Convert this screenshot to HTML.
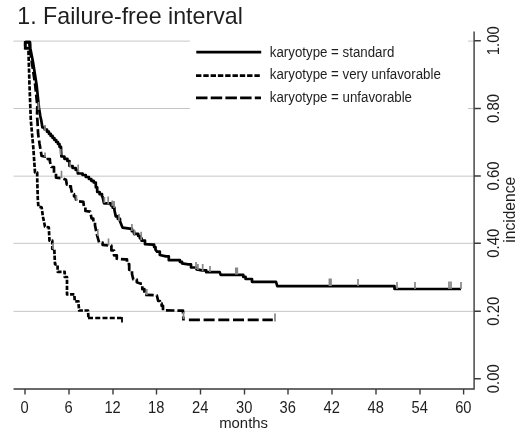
<!DOCTYPE html>
<html><head><meta charset="utf-8"><title>Failure-free interval</title>
<style>
html,body{margin:0;padding:0;background:#fff;}
body{width:520px;height:434px;overflow:hidden;font-family:"Liberation Sans",sans-serif;}
svg{display:block;}
text{font-family:"Liberation Sans",sans-serif;fill:#1e1e1e;}
</style></head><body>
<svg width="520" height="434" viewBox="0 0 520 434">
<rect width="520" height="434" fill="#fff"/>
<!-- gridlines -->
<g stroke="#c6c6c6" stroke-width="1">
<line x1="13.500" y1="41.100" x2="473.500" y2="41.100"/>
<line x1="13.500" y1="108.500" x2="473.500" y2="108.500"/>
<line x1="13.500" y1="176.150" x2="473.500" y2="176.150"/>
<line x1="13.500" y1="243.300" x2="473.500" y2="243.300"/>
<line x1="13.500" y1="311.350" x2="473.500" y2="311.350"/>
</g>
<!-- legend box -->
<rect x="190" y="34" width="278" height="82" fill="#fff"/>
<!-- title -->
<text x="17.300" y="23.800" font-size="23.200">1. Failure-free interval</text>
<!-- curves -->
<g fill="none" stroke="#000" stroke-linejoin="round" stroke-width="2.700">
<polyline stroke-dasharray="4.300,1.600" points="25.2,42.2 25.2,48.2 28.4,48.2 28.6,56.0 29.5,85.0 30.8,120.0 33.3,147.6 35.0,172.5 37.2,172.5 37.2,178.3 37.8,199.0 38.4,206.6 41.6,207.3 43.0,217.0 45.0,226.7 48.8,227.4 49.5,240.7 52.3,240.7 52.3,244.2 52.3,249.0 54.4,249.0 54.4,251.8 55.0,264.2 57.6,265.0 57.6,271.8 64.7,271.8 64.7,277.0 67.0,277.0 67.0,281.0 67.0,294.4 74.4,294.4 74.7,301.3 78.4,301.3 78.4,303.0 79.2,310.5 88.0,310.5 88.5,318.5"/>
<path stroke-dasharray="5,2.250" d="M88,318H121.500"/>
<polyline stroke-dasharray="8.500,3" points="25.2,42.2 29.8,42.2 29.8,48.2 31.8,62.0 35.2,85.0 37.3,106.0 37.0,116.0 37.4,120.0 38.1,133.8 39.5,143.5 41.6,156.0 45.7,156.6 47.8,156.6 47.8,159.1 49.9,159.1 49.9,161.5 51.3,167.0 54.0,167.0 54.0,173.0 56.0,173.0 56.0,177.6 62.6,178.3 66.0,179.7 66.8,184.6 68.8,184.6 68.8,186.3 70.9,186.3 70.9,188.0 72.3,194.2 74.0,194.2 74.0,196.3 75.7,196.3 75.7,198.4 76.4,201.0 83.3,201.8 84.0,206.7 85.4,206.7 85.4,211.0 90.2,211.6 91.6,218.5 93.3,218.5 93.3,221.9 95.0,221.9 95.0,225.4 97.0,235.0 99.2,242.7 102.6,242.7 102.6,244.8 109.6,245.5 111.4,245.5 111.4,250.5 114.0,250.5 114.0,255.3 116.8,255.3 116.8,258.7 125.0,259.4 127.0,259.4 127.0,264.2 129.2,264.2 129.2,269.8 132.0,269.8 132.0,274.0 133.3,279.5 136.8,279.5 136.8,282.3 140.9,283.7 142.3,283.7 142.3,289.2 144.4,289.2 144.4,294.9 156.8,295.3 158.2,301.0 159.9,301.0 159.9,303.4 161.6,303.4 161.6,305.8 163.0,305.8 163.0,310.3 181.0,310.6 183.0,310.6 183.0,313.4 183.5,320.5"/>
<path stroke-dasharray="11,3.700" d="M188.900,319.800H272.800"/>
<polyline points="25.2,42.2 29.8,42.2 30.3,48.2 33.0,62.0 36.6,85.0 39.0,108.0 40.3,116.0 41.2,120.0 42.4,127.5 44.7,127.5 44.7,129.6 47.0,129.6 47.0,131.7 48.9,131.7 48.9,133.8 50.7,133.8 50.7,135.9 52.6,135.9 52.6,138.0 54.4,138.0 54.4,140.0 56.2,140.0 56.2,142.0 58.0,142.0 58.0,144.0 59.5,144.0 59.5,146.8 61.0,146.8 61.0,149.7 61.4,156.5 64.4,156.5 64.4,158.8 67.4,158.8 67.4,161.0 69.5,161.0 69.5,166.0 72.6,166.0 72.6,168.0 75.7,168.0 75.7,170.0 77.8,170.0 77.8,173.5 82.6,173.5 82.6,175.0 85.8,175.0 85.8,177.0 88.9,177.0 88.9,179.0 91.3,179.0 91.3,180.8 93.7,180.8 93.7,182.5 95.8,182.5 95.8,187.3 97.2,187.3 97.2,192.0 99.6,192.0 99.6,194.2 102.0,194.2 102.0,196.3 102.6,197.0 104.0,203.3 111.0,203.3 111.0,205.4 112.7,205.4 112.7,207.7 114.4,207.7 114.4,210.0 115.8,216.4 117.9,216.4 117.9,218.9 120.0,218.9 120.0,221.3 122.5,227.6 129.8,228.6 131.9,228.6 131.9,231.2 134.0,231.2 134.0,233.8 138.2,233.8 138.2,236.0 139.9,236.0 139.9,238.3 141.6,238.3 141.6,240.7 145.0,240.7 145.0,244.2 152.7,244.6 154.1,244.6 154.1,247.1 155.5,247.1 155.5,249.7 157.0,251.6 159.8,251.6 159.8,255.0 166.0,256.4 168.8,256.4 168.8,260.2 177.8,260.2 179.9,260.2 179.9,261.8 182.0,261.8 182.0,263.3 188.2,264.3 191.0,264.3 191.0,267.5 196.5,267.5 196.5,269.3 202.0,270.3 206.2,270.3 206.2,272.2 219.7,272.2 220.7,274.9 241.0,274.9 243.3,274.9 243.3,276.9 245.6,276.9 245.6,279.0 249.2,279.0 252.0,279.0 252.0,281.8 276.0,281.8 277.3,286.2 393.0,286.2 394.5,286.2 394.5,289.0 461.0,289.0"/>
</g>
<!-- censor ticks -->
<g stroke="#878787" stroke-width="1.700" fill="none">
<path d="M45,125V131M60.7,149V155M70.2,161.8V167M78.2,164.5V172M104.4,197V203M108.2,196.4V204M112.3,200.5V206M114.1,201V208M119,214V221M131.9,224V231M134.4,229.7V236M141.2,231.7V240M196,262V269M197.9,264V270M202.7,264V271M210,266V272M235.8,267.5V274.5M237.3,267.5V274.5M329.4,278.5V286M331,278.5V286M358,279V286M397,282V289M415,282V289M449,281.5V289M451,281.5V289M461,282V289"/>
<path d="M38.6,102V110M45,152.5V157M61.5,170.7V178M76.4,195V201M97.8,229V236M108.5,238.5V245.5M146.8,289V295M183.5,312V319M275,313.6V321.5"/>
<path d="M53,243V249"/>
</g>
<path d="M122,317V322.500" stroke="#000" stroke-width="1.800" fill="none"/>
<path d="M25.200,42.200H29.800V48.200H25.200Z" stroke="#000" stroke-width="2.600" fill="none"/>
<!-- legend -->
<g stroke="#000" stroke-width="2.700" fill="none">
<line x1="196.300" y1="52.200" x2="261.200" y2="52.200"/>
<line x1="196" y1="75.600" x2="261" y2="75.600" stroke-dasharray="5.400,1.900"/>
<line x1="196" y1="97.800" x2="261" y2="97.800" stroke-dasharray="11.500,3.200"/>
</g>
<g font-size="13.300">
<text transform="translate(269.800,57.200) scale(1,1.100)">karyotype = standard</text>
<text transform="translate(269.800,79.400) scale(1,1.100)">karyotype = very unfavorable</text>
<text transform="translate(269.800,102.400) scale(1,1.100)">karyotype = unfavorable</text>
</g>
<!-- axes -->
<g stroke="#3a3a3a" stroke-width="1.400" fill="none">
<path d="M13.500,389H474.1V31.500"/>
<path d="M25,389v5.6M69,389v5.6M113,389v5.6M156.500,389v5.6M200.500,389v5.6M244.500,389v5.6M288,389v5.6M332,389v5.6M376,389v5.6M420,389v5.6M463.600,389v5.6"/>
<path d="M474.1,40.700h6.700M474.1,108.500h6.700M474.1,176h6.700M474.1,243.300h6.700M474.1,311.300h6.700M474.1,378.700h6.700"/>
</g>
<g font-size="14.700" text-anchor="middle">
<text transform="translate(24.600,412.700) scale(1,1.120)">0</text><text transform="translate(68.600,412.700) scale(1,1.120)">6</text><text transform="translate(112.600,412.700) scale(1,1.120)">12</text><text transform="translate(156.200,412.700) scale(1,1.120)">18</text><text transform="translate(200.200,412.700) scale(1,1.120)">24</text><text transform="translate(244.200,412.700) scale(1,1.120)">30</text><text transform="translate(287.700,412.700) scale(1,1.120)">36</text><text transform="translate(331.700,412.700) scale(1,1.120)">42</text><text transform="translate(375.700,412.700) scale(1,1.120)">48</text><text transform="translate(419.700,412.700) scale(1,1.120)">54</text><text transform="translate(463.300,412.700) scale(1,1.120)">60</text>
<text transform="translate(243.600,428.100) scale(1,1.030)" font-size="14.900">months</text>
</g>
<g font-size="14.900" text-anchor="middle">
<text transform="translate(499.400,40.700) rotate(-90) scale(1,1.120)">1.00</text>
<text transform="translate(499.400,108.500) rotate(-90) scale(1,1.120)">0.80</text>
<text transform="translate(499.400,176.000) rotate(-90) scale(1,1.120)">0.60</text>
<text transform="translate(499.400,243.300) rotate(-90) scale(1,1.120)">0.40</text>
<text transform="translate(499.400,311.300) rotate(-90) scale(1,1.120)">0.20</text>
<text transform="translate(499.400,378.700) rotate(-90) scale(1,1.120)">0.00</text>
<text transform="translate(515,209.800) rotate(-90) scale(1,1.100)" font-size="15.600">incidence</text>
</g>
</svg>
</body></html>
